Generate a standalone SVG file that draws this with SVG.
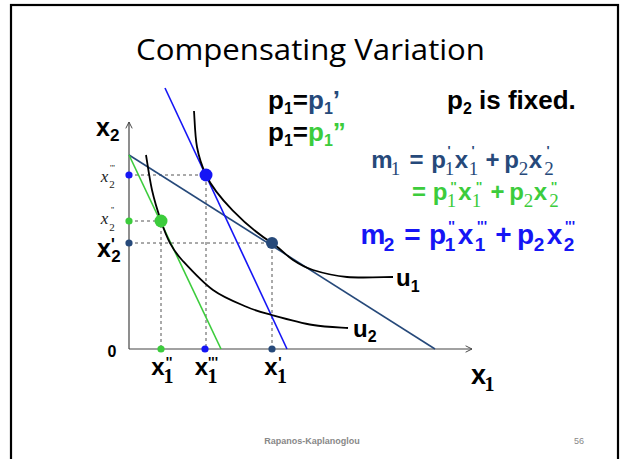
<svg xmlns="http://www.w3.org/2000/svg" width="621" height="459" viewBox="0 0 621 459">
<style>
.sans{font-family:"Liberation Sans",Arial,sans-serif;font-weight:bold}
.serif{font-family:"Liberation Serif","Times New Roman",serif}
.dash{stroke:#555;stroke-width:1;stroke-dasharray:3,3;fill:none}
.axis{stroke:#444;stroke-width:1.2;fill:none}
.curve{stroke:#000;stroke-width:1.8;fill:none}
.dk{fill:#26497a}
.gr{fill:#3ccc3c}
.bl{fill:#1515f5}
</style>
<defs>
<marker id="arr" viewBox="0 0 10 10" refX="9" refY="5" markerWidth="8" markerHeight="8" orient="auto" markerUnits="userSpaceOnUse">
<path d="M1,1 L9,5 L1,9" fill="none" stroke="#444" stroke-width="1.2"/>
</marker>
</defs>
<rect x="11" y="5" width="607" height="470" fill="#fff" stroke="#000" stroke-width="2.2"/>
<text x="310.5" y="60" text-anchor="middle" font-family="Open Sans, sans-serif" font-size="30" textLength="349" lengthAdjust="spacingAndGlyphs">Compensating Variation</text>

<g id="axes">
<line class="axis" x1="129" y1="349" x2="129" y2="122" marker-end="url(#arr)"/>
<line class="axis" x1="129" y1="349" x2="472" y2="349" marker-end="url(#arr)"/>
</g>

<g id="connectors">
<polyline class="dash" points="129,175 206,175 206,349"/>
<polyline class="dash" points="129,221 161,221 161,349"/>
<polyline class="dash" points="129,243 272,243 272,349"/>
</g>

<g id="budget-lines">
<line x1="129" y1="155" x2="435" y2="349" stroke="#26497a" stroke-width="1.6"/>
<line x1="129" y1="155" x2="221" y2="349" stroke="#3ccc3c" stroke-width="1.6"/>
<line x1="165" y1="88" x2="287" y2="349" stroke="#1515f5" stroke-width="1.6"/>
</g>

<g id="u1">
<path class="curve" d="M194,111 C194.5,117 195,136.3 197,147 C199,157.7 202,166.4 206,175 C215.6,195.5 245.3,226.1 272,243 C282,249.7 286.2,255.5 293,260 C299.8,264.5 304,267.2 313,270 C322,272.8 333.7,275.8 347,277 C360.3,278.2 385.3,277 393,277"/>
<text class="sans" x="396" y="286" font-size="24">u<tspan font-size="16" dy="6">1</tspan></text>
</g>
<g id="u2">
<path class="curve" d="M146,155 C147,160.8 149.5,179 152,190 C154.5,201 158,212.2 161,221 C164,229.8 166.5,236.5 170,243 C173.5,249.5 174.8,252.2 182,260 C189.2,267.8 202.2,282.2 213,290 C223.8,297.8 237.2,302.8 247,307 C256.8,311.2 261,312 272,315 C283,318 300.3,322.8 313,325 C325.7,327.2 342.2,327.5 348,328"/>
<text class="sans" x="353" y="337" font-size="24">u<tspan font-size="16" dy="5">2</tspan></text>
</g>

<g id="points">
<circle class="bl" cx="206" cy="175" r="6.5"/>
<circle class="gr" cx="161" cy="221" r="6.5"/>
<circle class="dk" cx="272" cy="243" r="6"/>
<circle class="bl" cx="129" cy="175" r="3.6"/>
<circle class="gr" cx="129" cy="221" r="3.6"/>
<circle class="dk" cx="129" cy="243" r="3.6"/>
<circle class="gr" cx="161" cy="349" r="3.6"/>
<circle class="bl" cx="205" cy="349" r="3.6"/>
<circle class="dk" cx="272" cy="349" r="3.6"/>
</g>

<g id="axis-labels">
<text class="sans" x="96" y="136" font-size="25">x<tspan font-size="17" dy="5">2</tspan></text>
<text class="sans" font-size="25" text-anchor="middle"><tspan x="104" y="257">x</tspan><tspan font-size="17" x="116" y="262">2</tspan><tspan font-size="16" x="113" y="250">'</tspan></text>
<text class="serif" font-size="17" fill="#222" text-anchor="middle"><tspan x="104.5" y="182" font-style="italic">x</tspan><tspan font-size="11" x="112" y="188">2</tspan><tspan font-size="9" x="112.5" y="171">'''</tspan></text>
<text class="serif" font-size="17" fill="#222" text-anchor="middle"><tspan x="104.5" y="224" font-style="italic">x</tspan><tspan font-size="11" x="112" y="231">2</tspan><tspan font-size="9" x="112.5" y="213">''</tspan></text>
<text class="sans" x="112" y="357" font-size="16" text-anchor="middle">0</text>

<text class="sans" font-size="24" text-anchor="middle"><tspan x="158" y="375">x</tspan><tspan class="serif" font-size="20" x="168.5" y="383">1</tspan><tspan font-size="14" x="169" y="367">''</tspan></text>
<text class="sans" font-size="24" text-anchor="middle"><tspan x="201.5" y="375">x</tspan><tspan class="serif" font-size="20" x="212.5" y="383">1</tspan><tspan font-size="14" x="213" y="367">'''</tspan></text>
<text class="sans" font-size="24" text-anchor="middle"><tspan x="271" y="375">x</tspan><tspan class="serif" font-size="20" x="282" y="383">1</tspan><tspan font-size="14" x="280" y="367">'</tspan></text>
<text class="sans" font-size="27" text-anchor="middle"><tspan x="478.5" y="384">x</tspan><tspan class="serif" font-size="20" x="489.5" y="391">1</tspan></text>
</g>

<g id="price-notes">
<text class="sans" x="268" y="109" font-size="26">p<tspan font-size="16" dy="5">1</tspan><tspan dy="-5">=</tspan><tspan class="dk">p</tspan><tspan class="dk" font-size="16" dy="5">1</tspan><tspan class="dk" dy="-5">’</tspan></text>
<text class="sans" x="268" y="141" font-size="26">p<tspan font-size="16" dy="5">1</tspan><tspan dy="-5">=</tspan><tspan class="gr">p</tspan><tspan class="gr" font-size="16" dy="5">1</tspan><tspan class="gr" dy="-5">”</tspan></text>
<text class="sans" x="447" y="109" font-size="26">p<tspan font-size="16" dy="5">2</tspan><tspan dy="-5"> is fixed.</tspan></text>
</g>

<g id="eq-m1" class="dk">
<text class="sans" font-size="24" text-anchor="middle"><tspan y="168" x="382">m</tspan><tspan class="serif" font-weight="normal" font-size="19" x="395.5" y="175">1</tspan><tspan y="168" x="416.5">=</tspan><tspan x="438.5">p</tspan><tspan class="serif" font-weight="normal" font-size="19" x="449.5" y="175">1</tspan><tspan font-size="13" x="449" y="155">'</tspan><tspan x="461.5" y="168">x</tspan><tspan class="serif" font-weight="normal" font-size="19" x="473.5" y="175">1</tspan><tspan font-size="13" x="473" y="155">'</tspan><tspan x="492.5" y="168">+</tspan><tspan x="511.5">p</tspan><tspan class="serif" font-weight="normal" font-size="19" x="523.5" y="175">2</tspan><tspan x="535.5" y="168">x</tspan><tspan class="serif" font-weight="normal" font-size="19" x="549" y="175">2</tspan><tspan font-size="13" x="548" y="155">'</tspan></text>
</g>

<g id="eq-green" class="gr">
<text class="sans" font-size="24" text-anchor="middle"><tspan x="419" y="200">=</tspan><tspan x="440">p</tspan><tspan class="serif" font-weight="normal" font-size="19" x="451.5" y="207">1</tspan><tspan font-size="13" x="453.5" y="191">''</tspan><tspan x="465" y="200">x</tspan><tspan class="serif" font-weight="normal" font-size="19" x="476.5" y="207">1</tspan><tspan font-size="13" x="479" y="191">''</tspan><tspan x="497.5" y="200">+</tspan><tspan x="516.5">p</tspan><tspan class="serif" font-weight="normal" font-size="19" x="528.5" y="207">2</tspan><tspan x="540.5" y="200">x</tspan><tspan class="serif" font-weight="normal" font-size="19" x="554" y="207">2</tspan><tspan font-size="13" x="554" y="191">''</tspan></text>
</g>

<g id="eq-m2" class="bl">
<text class="sans" font-size="28" text-anchor="middle"><tspan x="373" y="244">m</tspan><tspan font-size="19" x="389" y="251">2</tspan><tspan x="412.5" y="244">=</tspan><tspan x="437.5">p</tspan><tspan font-size="19" x="450" y="251">1</tspan><tspan font-size="14" x="451.5" y="231">''</tspan><tspan x="465.5" y="244">x</tspan><tspan font-size="19" x="480" y="251">1</tspan><tspan font-size="14" x="482" y="231">'''</tspan><tspan x="503.5" y="244">+</tspan><tspan x="525.5">p</tspan><tspan font-size="19" x="539" y="251">2</tspan><tspan x="554.5" y="244">x</tspan><tspan font-size="19" x="569" y="251">2</tspan><tspan font-size="14" x="570" y="231">'''</tspan></text>
</g>

<text class="sans" x="312" y="444" font-size="9" text-anchor="middle" fill="#888">Rapanos-Kaplanoglou</text>
<text x="579" y="444" font-size="9" text-anchor="middle" fill="#888" font-family="Liberation Sans, sans-serif">56</text>
</svg>
